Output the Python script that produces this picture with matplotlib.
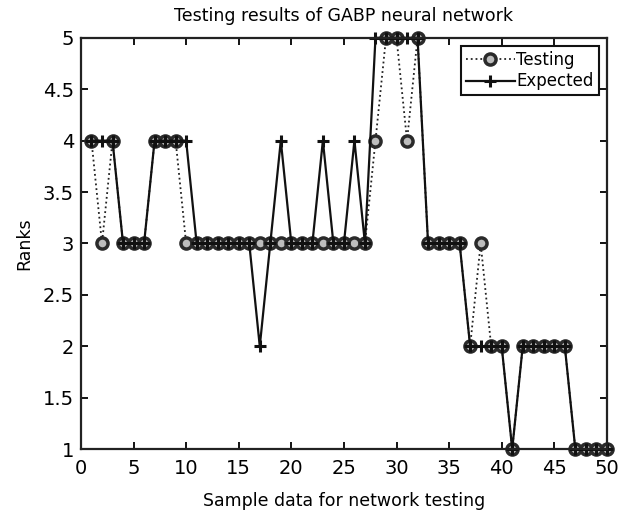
import matplotlib
matplotlib.use("Agg")
import matplotlib.pyplot as plt

# numero de muestra (1..50)
muestras = list(range(1, 51))

# rango esperado de cada muestra
esperado = [4, 4, 4, 3, 3, 3, 4, 4, 4, 4,
            3, 3, 3, 3, 3, 3, 2, 3, 4, 3,
            3, 3, 4, 3, 3, 4, 3, 5, 5, 5,
            5, 5, 3, 3, 3, 3, 2, 2, 2, 2,
            1, 2, 2, 2, 2, 2, 1, 1, 1, 1]

# rango que dio la red GABP
prueba = [4, 3, 4, 3, 3, 3, 4, 4, 4, 3,
          3, 3, 3, 3, 3, 3, 3, 3, 3, 3,
          3, 3, 3, 3, 3, 3, 3, 4, 5, 5,
          4, 5, 3, 3, 3, 3, 2, 3, 2, 2,
          1, 2, 2, 2, 2, 2, 1, 1, 1, 1]

xticks = [0, 5, 10, 15, 20, 25, 30, 35, 40, 45, 50]
yticks = [1, 1.5, 2, 2.5, 3, 3.5, 4, 4.5, 5]
yticklabels = ["1", "1.5", "2", "2.5", "3", "3.5", "4", "4.5", "5"]

plt.rcParams['font.family'] = ['DejaVu Sans']

fig = plt.figure(figsize=(6.18, 5.18), dpi=100)
ax = fig.add_axes([0.131, 0.133, 0.851, 0.794])

ax.plot(muestras, prueba, linestyle=':', color='#222222', linewidth=1.3,
        marker='o', markersize=8, markerfacecolor='#bdbdbd',
        markeredgecolor='#2a2a2a', markeredgewidth=2.5, label='Testing',
        clip_on=False)
ax.plot(muestras, esperado, linestyle='-', color='#111111', linewidth=1.6,
        marker='+', markersize=9, markeredgewidth=2.2,
        markeredgecolor='#111111', label='Expected', clip_on=False)

ax.set_xlim(0, 50)
ax.set_ylim(1, 5)
ax.set_xticks(xticks)
ax.set_yticks(yticks)
ax.set_yticklabels(yticklabels)
ax.tick_params(direction='in', top=True, right=True, length=5, width=1.3,
               labelsize=14)
ax.tick_params(axis='x', pad=7)
ax.tick_params(axis='y', pad=5)
for s in ax.spines.values():
    s.set_linewidth(1.6)
    s.set_color('#222222')

ax.set_title("Testing results of GABP neural network", fontsize=12.5, pad=12)
ax.set_xlabel("Sample data for network testing", fontsize=12.5, labelpad=10)
ax.set_ylabel("Ranks", fontsize=12.5, labelpad=7)

leg = ax.legend(loc='upper right', fontsize=12, fancybox=False, framealpha=1,
                edgecolor='#111111', handlelength=2.9, handletextpad=0.1,
                labelspacing=0.2, borderpad=0.3, borderaxespad=0.5)
leg.get_frame().set_linewidth(1.5)
leg.set_zorder(5)

fig.savefig("out.png", dpi=100)
